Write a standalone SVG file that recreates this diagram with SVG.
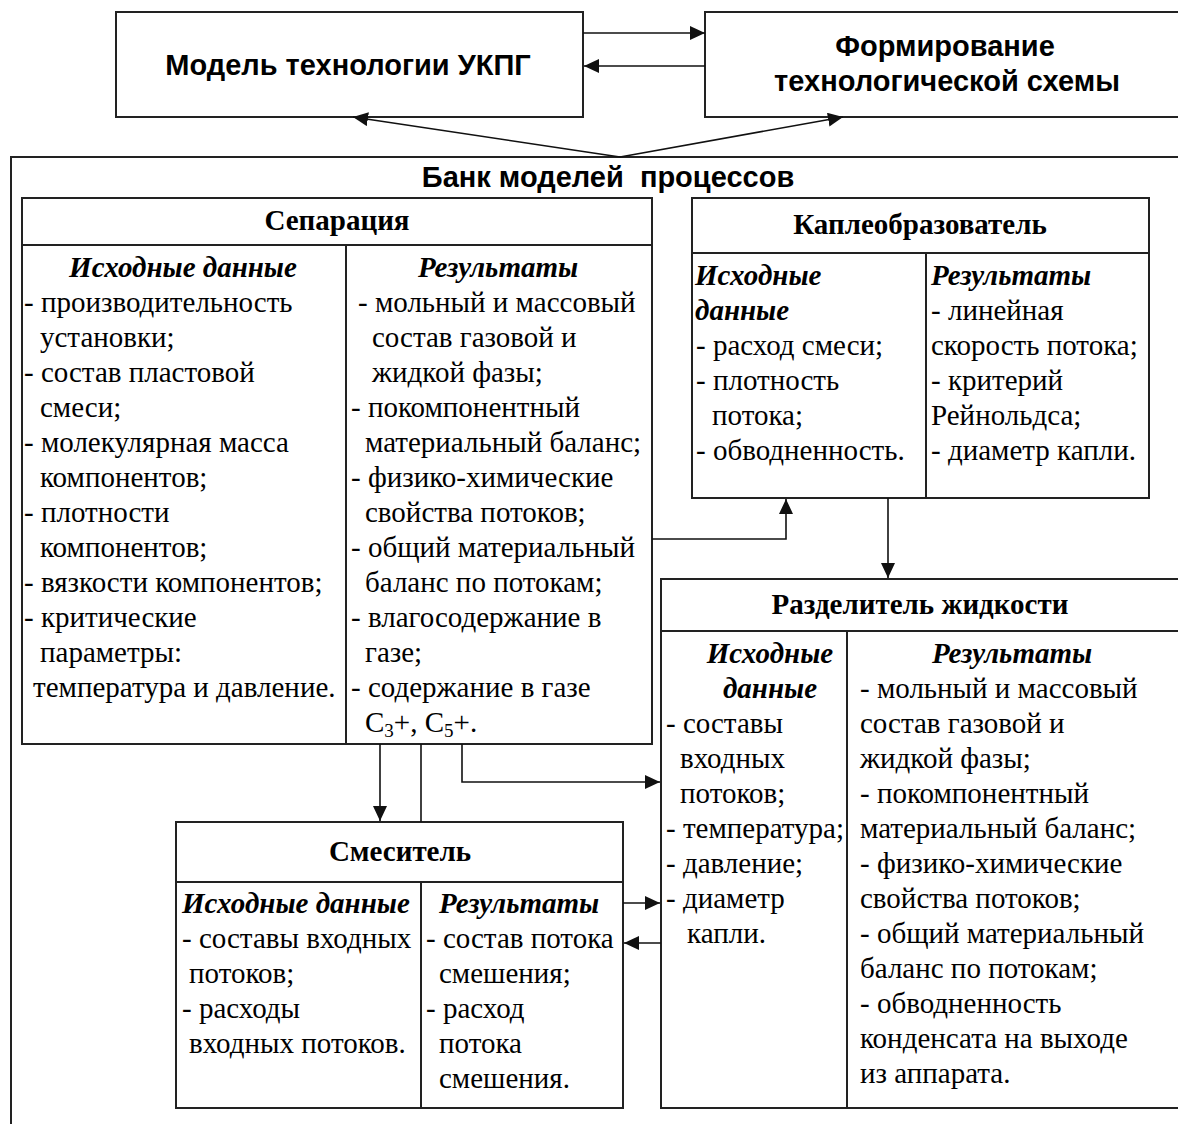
<svg xmlns="http://www.w3.org/2000/svg" width="1178" height="1124" viewBox="0 0 1178 1124">
<style>
.box{fill:#fff;stroke:#222;stroke-width:2}
.ln{stroke:#222;stroke-width:2;fill:none}
.t{font-family:"Liberation Serif","Times New Roman",serif;font-size:29px;fill:#000}
.b{font-weight:bold}
.bi{font-weight:bold;font-style:italic}
.s{font-family:"Liberation Sans",Arial,sans-serif;font-weight:bold;font-size:29px;fill:#000;white-space:pre}
.c{text-anchor:middle}
.conn{stroke:#111;stroke-width:1.6;fill:none}
</style>
<defs>
<marker id="ah" markerUnits="userSpaceOnUse" markerWidth="16" markerHeight="14" refX="15" refY="7" orient="auto">
<path d="M0,0 L15,7 L0,14 z" fill="#111"/>
</marker>
</defs>
<rect width="1178" height="1124" fill="#fff"/>

<g id="bank">
<rect class="box" x="11" y="157" width="1180" height="980"/>
<text class="s c" x="608" y="187" xml:space="preserve">Банк моделей  процессов</text>
</g>

<g id="model">
<rect class="box" x="116" y="12" width="467" height="105"/>
<text class="s c" x="348" y="75">Модель технологии УКПГ</text>
</g>

<g id="forming">
<rect class="box" x="705" y="12" width="480" height="105"/>
<text class="s c" x="945" y="56">Формирование</text>
<text class="s c" x="947" y="91">технологической схемы</text>
</g>

<g id="separation">
<rect class="box" x="22" y="198" width="630" height="546"/>
<line class="ln" x1="22" y1="245" x2="652" y2="245"/>
<line class="ln" x1="346" y1="245" x2="346" y2="744"/>
<text class="t b c" x="337" y="230">Сепарация</text>
<text class="t bi c" x="183" y="277">Исходные данные</text>
<text class="t bi c" x="498" y="277">Результаты</text>
<text class="t" x="24" y="312">- производительность</text>
<text class="t" x="40" y="347">установки;</text>
<text class="t" x="24" y="382">- состав пластовой</text>
<text class="t" x="40" y="417">смеси;</text>
<text class="t" x="24" y="452">- молекулярная масса</text>
<text class="t" x="40" y="487">компонентов;</text>
<text class="t" x="24" y="522">- плотности</text>
<text class="t" x="40" y="557">компонентов;</text>
<text class="t" x="24" y="592">- вязкости компонентов;</text>
<text class="t" x="24" y="627">- критические</text>
<text class="t" x="40" y="662">параметры:</text>
<text class="t" x="33" y="697">температура и давление.</text>
<text class="t" x="358" y="312">- мольный и массовый</text>
<text class="t" x="372" y="347">состав газовой и</text>
<text class="t" x="372" y="382">жидкой фазы;</text>
<text class="t" x="351" y="417">- покомпонентный</text>
<text class="t" x="365" y="452">материальный баланс;</text>
<text class="t" x="351" y="487">- физико-химические</text>
<text class="t" x="365" y="522">свойства потоков;</text>
<text class="t" x="351" y="557">- общий материальный</text>
<text class="t" x="365" y="592">баланс по потокам;</text>
<text class="t" x="351" y="627">- влагосодержание в</text>
<text class="t" x="365" y="662">газе;</text>
<text class="t" x="351" y="697">- содержание в газе</text>
<text class="t" x="365" y="732">C<tspan font-size="19" dy="5">3</tspan><tspan dy="-5">+, C</tspan><tspan font-size="19" dy="5">5</tspan><tspan dy="-5">+.</tspan></text>
</g>

<g id="drop-former">
<rect class="box" x="692" y="198" width="457" height="300"/>
<line class="ln" x1="692" y1="253" x2="1149" y2="253"/>
<line class="ln" x1="926" y1="253" x2="926" y2="498"/>
<text class="t b c" x="920" y="234">Каплеобразователь</text>
<text class="t bi" x="695" y="285">Исходные</text>
<text class="t bi" x="695" y="320">данные</text>
<text class="t" x="696" y="355">- расход смеси;</text>
<text class="t" x="696" y="390">- плотность</text>
<text class="t" x="712" y="425">потока;</text>
<text class="t" x="696" y="460">- обводненность.</text>
<text class="t bi" x="931" y="285">Результаты</text>
<text class="t" x="931" y="320">- линейная</text>
<text class="t" x="931" y="355">скорость потока;</text>
<text class="t" x="931" y="390">- критерий</text>
<text class="t" x="931" y="425">Рейнольдса;</text>
<text class="t" x="931" y="460">- диаметр капли.</text>
</g>

<g id="liquid-separator">
<rect class="box" x="661" y="579" width="530" height="529"/>
<line class="ln" x1="661" y1="631" x2="1191" y2="631"/>
<line class="ln" x1="847" y1="631" x2="847" y2="1108"/>
<text class="t b c" x="920" y="614">Разделитель жидкости</text>
<text class="t bi c" x="770" y="663">Исходные</text>
<text class="t bi c" x="770" y="698">данные</text>
<text class="t" x="666" y="733">- составы</text>
<text class="t" x="680" y="768">входных</text>
<text class="t" x="680" y="803">потоков;</text>
<text class="t" x="666" y="838">- температура;</text>
<text class="t" x="666" y="873">- давление;</text>
<text class="t" x="666" y="908">- диаметр</text>
<text class="t" x="687" y="943">капли.</text>
<text class="t bi c" x="1012" y="663">Результаты</text>
<text class="t" x="860" y="698">- мольный и массовый</text>
<text class="t" x="860" y="733">состав газовой и</text>
<text class="t" x="860" y="768">жидкой фазы;</text>
<text class="t" x="860" y="803">- покомпонентный</text>
<text class="t" x="860" y="838">материальный баланс;</text>
<text class="t" x="860" y="873">- физико-химические</text>
<text class="t" x="860" y="908">свойства потоков;</text>
<text class="t" x="860" y="943">- общий материальный</text>
<text class="t" x="860" y="978">баланс по потокам;</text>
<text class="t" x="860" y="1013">- обводненность</text>
<text class="t" x="860" y="1048">конденсата на выходе</text>
<text class="t" x="860" y="1083">из аппарата.</text>
</g>

<g id="mixer">
<rect class="box" x="176" y="822" width="447" height="286"/>
<line class="ln" x1="176" y1="882" x2="623" y2="882"/>
<line class="ln" x1="421" y1="882" x2="421" y2="1108"/>
<text class="t b c" x="400" y="861">Смеситель</text>
<text class="t bi" x="182" y="913">Исходные данные</text>
<text class="t" x="182" y="948">- составы входных</text>
<text class="t" x="189" y="983">потоков;</text>
<text class="t" x="182" y="1018">- расходы</text>
<text class="t" x="189" y="1053">входных потоков.</text>
<text class="t bi" x="439" y="913">Результаты</text>
<text class="t" x="426" y="948">- состав потока</text>
<text class="t" x="439" y="983">смешения;</text>
<text class="t" x="426" y="1018">- расход</text>
<text class="t" x="439" y="1053">потока</text>
<text class="t" x="439" y="1088">смешения.</text>
</g>

<g id="connectors">
<line class="conn" x1="583" y1="33" x2="705" y2="33" marker-end="url(#ah)"/>
<line class="conn" x1="705" y1="66" x2="584" y2="66" marker-end="url(#ah)"/>
<line class="conn" x1="620" y1="157" x2="353" y2="117" marker-end="url(#ah)"/>
<line class="conn" x1="620" y1="157" x2="843" y2="117" marker-end="url(#ah)"/>
<polyline class="conn" points="652,539 786,539 786,499" marker-end="url(#ah)"/>
<line class="conn" x1="888" y1="498" x2="888" y2="578" marker-end="url(#ah)"/>
<line class="conn" x1="380" y1="744" x2="380" y2="821" marker-end="url(#ah)"/>
<line class="conn" x1="421" y1="744" x2="421" y2="822"/>
<polyline class="conn" points="462,744 462,782 660,782" marker-end="url(#ah)"/>
<line class="conn" x1="623" y1="903" x2="660" y2="903" marker-end="url(#ah)"/>
<line class="conn" x1="661" y1="943" x2="624" y2="943" marker-end="url(#ah)"/>
</g>
</svg>
